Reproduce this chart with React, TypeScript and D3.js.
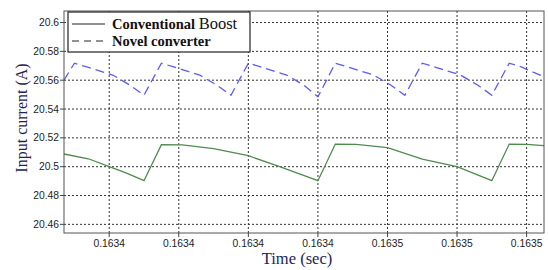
import React, { useMemo } from "react";
import * as d3 from "d3";

const WIDTH = 548;
const HEIGHT = 270;
const MARGIN = { top: 11, right: 4, bottom: 37, left: 64 };

// x ticks (s) and y ticks (A)
const xTicks = [0.16338, 0.1634, 0.16342, 0.16344, 0.16346, 0.16348, 0.1635];
const yTicks = [20.46, 20.48, 20.5, 20.52, 20.54, 20.56, 20.58, 20.6];
const yTickLabels = ["20.46", "20.48", "20.5", "20.52", "20.54", "20.56", "20.58", "20.6"];

// Conventional Boost (solid green)
const convTime = [
  0.163367, 0.163374, 0.16338, 0.163385, 0.16339, 0.163395, 0.163401, 0.16341, 0.16342, 0.163429,
  0.16344, 0.163445, 0.163451, 0.16346, 0.16347, 0.16348, 0.16349, 0.163495, 0.1635, 0.163505,
];
const convCurrent = [
  20.5088, 20.5055, 20.5, 20.4955, 20.4903, 20.5153, 20.5152, 20.5125, 20.5076, 20.5,
  20.4903, 20.5157, 20.5155, 20.5132, 20.5053, 20.5, 20.4903, 20.5157, 20.5155, 20.5146,
];

// Novel converter (dashed blue)
const novelTime = [
  0.163367, 0.16337, 0.1633733, 0.163381, 0.163386, 0.16339,
  0.163395, 0.1633983, 0.163406, 0.163411, 0.163415,
  0.16342, 0.1634233, 0.163431, 0.163436, 0.16344,
  0.163445, 0.1634483, 0.163456, 0.163461, 0.163465,
  0.16347, 0.1634733, 0.163481, 0.163486, 0.16349,
  0.163495, 0.1634983, 0.163505,
];
const novelCurrent = [
  20.56, 20.5718, 20.5694, 20.5636, 20.5565, 20.5496,
  20.5718, 20.5694, 20.5636, 20.5565, 20.5496,
  20.5718, 20.5694, 20.5636, 20.5565, 20.5485,
  20.5718, 20.5694, 20.5636, 20.5565, 20.5496,
  20.5718, 20.5694, 20.5636, 20.5565, 20.5496,
  20.5718, 20.5694, 20.5623,
];

const App = () => {
  const boundsWidth = WIDTH - MARGIN.left - MARGIN.right;
  const boundsHeight = HEIGHT - MARGIN.top - MARGIN.bottom;

  const xScale = useMemo(
    () => d3.scaleLinear().domain([0.163367, 0.163505]).range([0, boundsWidth]),
    [boundsWidth]
  );
  const yScale = useMemo(
    () => d3.scaleLinear().domain([20.454, 20.608]).range([boundsHeight, 0]),
    [boundsHeight]
  );

  const line = d3
    .line<[number, number]>()
    .x((d) => xScale(d[0]))
    .y((d) => yScale(d[1]));

  const convPath = line(convTime.map((t, i) => [t, convCurrent[i]]));
  const novelPath = line(novelTime.map((t, i) => [t, novelCurrent[i]]));
  const fmtX = d3.format(".4f");

  return (
    <svg
      width={WIDTH}
      height={HEIGHT}
      style={{ position: "absolute", left: 0, top: 0, background: "#fff" }}
    >
      <g transform={`translate(${MARGIN.left},${MARGIN.top})`}>
        {/* grid */}
        {xTicks.map((t) => (
          <line
            key={"gx" + t}
            x1={xScale(t)}
            x2={xScale(t)}
            y1={0}
            y2={boundsHeight}
            stroke="#333"
            strokeWidth={1}
            strokeDasharray="2,2"
          />
        ))}
        {yTicks.map((v) => (
          <line
            key={"gy" + v}
            x1={0}
            x2={boundsWidth}
            y1={yScale(v)}
            y2={yScale(v)}
            stroke="#333"
            strokeWidth={1}
            strokeDasharray="2,2"
          />
        ))}

        {/* series */}
        <path d={convPath || ""} fill="none" stroke="#4f8a4f" strokeWidth={1.3} />
        <path
          d={novelPath || ""}
          fill="none"
          stroke="#5b5bf5"
          strokeWidth={1.3}
          strokeDasharray="9,5"
        />

        {/* frame */}
        <rect
          x={0}
          y={0}
          width={boundsWidth}
          height={boundsHeight}
          fill="none"
          stroke="#555"
          strokeWidth={1}
        />

        {/* ticks + labels */}
        {xTicks.map((t) => (
          <g key={"tx" + t} transform={`translate(${xScale(t)},${boundsHeight})`}>
            <line y1={0} y2={4} stroke="#444" />
            <text
              y={14}
              textAnchor="middle"
              fontFamily="Liberation Sans, Arial, sans-serif"
              fontSize={10.3}
              fill="#222"
            >
              {fmtX(t)}
            </text>
          </g>
        ))}
        {yTicks.map((v, i) => (
          <g key={"ty" + v} transform={`translate(0,${yScale(v)})`}>
            <line x1={-4} x2={0} stroke="#444" />
            <text
              x={-5}
              dy="0.35em"
              textAnchor="end"
              fontFamily="Liberation Sans, Arial, sans-serif"
              fontSize={10.3}
              fill="#222"
            >
              {yTickLabels[i]}
            </text>
          </g>
        ))}

        {/* legend */}
        <g transform="translate(4,1)">
          <rect x={0} y={0} width={182} height={40} fill="#fff" stroke="#222" strokeWidth={1.2} />
          <line x1={4} x2={37} y1={12} y2={12} stroke="#222" strokeWidth={1} />
          <line x1={4} x2={37} y1={29} y2={29} stroke="#222" strokeWidth={1} strokeDasharray="7,5" />
          <text
            x={44}
            y={16.5}
            fontFamily="Liberation Serif, Times New Roman, serif"
            fontSize={14.5}
            fontWeight="bold"
            fill="#111"
          >
            Conventional <tspan fontWeight="normal" fontSize={16.5}>Boost</tspan>
          </text>
          <text
            x={44}
            y={33.5}
            fontFamily="Liberation Serif, Times New Roman, serif"
            fontSize={14.5}
            fontWeight="bold"
            fill="#111"
          >
            Novel converter
          </text>
        </g>
      </g>

      {/* axis titles */}
      <text
        transform="translate(27,118) rotate(-90)"
        textAnchor="middle"
        fontFamily="Liberation Serif, Times New Roman, serif"
        fontSize={16}
        fill="#1c2555"
      >
        Input current (A)
      </text>
      <text
        x={297}
        y={264}
        textAnchor="middle"
        fontFamily="Liberation Serif, Times New Roman, serif"
        fontSize={16.5}
        fill="#1c2555"
      >
        Time (sec)
      </text>
    </svg>
  );
};

export default App;
